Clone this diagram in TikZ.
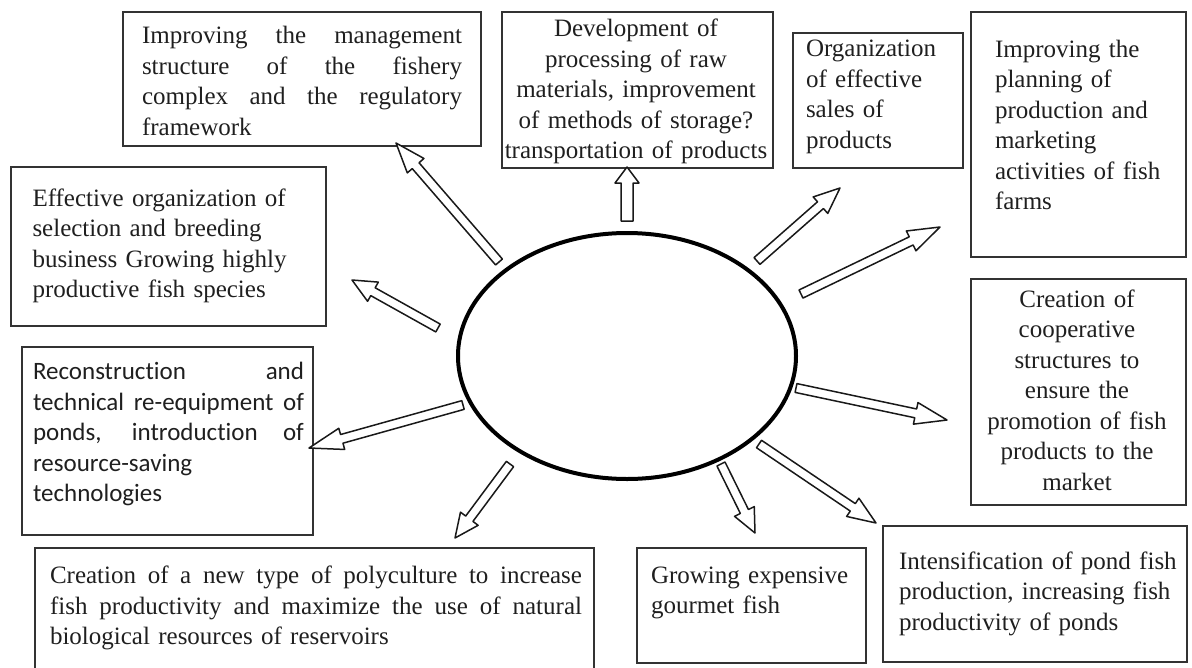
\documentclass[tikz,border=0pt]{standalone}
\usepackage{fontspec}
\setmainfont{Liberation Serif}
\newfontfamily\calfont[Ligatures=CommonOff]{Carlito}
\usetikzlibrary{calc,shapes.geometric}
\newcommand\jl[1]{\leavevmode\hbox to \hsize{\spaceskip=\fontdimen2\font plus 1fil\relax #1}}
% tail, tip, head length, shaft half width, head half width
\newcommand\blockarrowx[5]{%
  \coordinate (hb) at ($(#2)!#3!(#1)$);
  \draw[arrowline] ($(#1)!#4!90:(#2)$) -- ($(hb)!#4!-90:(#1)$) -- ($(hb)!#5!-90:(#1)$)
    -- (#2) -- ($(hb)!#5!90:(#1)$) -- ($(hb)!#4!90:(#1)$) -- ($(#1)!#4!-90:(#2)$) -- cycle;
}
\newcommand\blockarrow[3][28pt]{\blockarrowx{#2}{#3}{#1}{4.5pt}{11pt}}
\begin{document}
\begin{tikzpicture}[x=1pt,y=-1pt,
  box/.style={draw=black!80, line width=1.3pt, inner sep=0pt},
  txt/.style={inner sep=0pt, text=black!88, font=\fontsize{25}{30.5}\selectfont},
  arrowline/.style={draw=black!90, line width=1.5pt, fill=white, line join=round},
  hub/.style={ellipse, draw=black, line width=4pt, inner sep=0pt}]
\useasboundingbox (0,0) rectangle (1192,667);

% central ellipse
\node[hub, minimum width=338pt, minimum height=246pt] (c) at (627,356) {};

% boxes
\node[box, minimum width=358pt, minimum height=134pt] (b1) at (302,79) {};
\node[box, minimum width=271pt, minimum height=156pt] (b2) at (637.5,90) {};
\node[box, minimum width=170pt, minimum height=135pt] (b3) at (878,100.5) {};
\node[box, minimum width=215pt, minimum height=245pt] (b4) at (1078.5,134.5) {};
\node[box, minimum width=315pt, minimum height=159pt] (b5) at (168.5,246.5) {};
\node[box, minimum width=215pt, minimum height=226pt] (b6) at (1078.5,392) {};
\node[box, minimum width=291pt, minimum height=188pt] (b7) at (167.5,441) {};
\node[box, minimum width=559pt, minimum height=121pt] (b8) at (314.5,608.5) {};
\node[box, minimum width=229pt, minimum height=115pt] (b9) at (751.5,605.5) {};
\node[box, minimum width=304pt, minimum height=136pt] (b10) at (1035,594) {};

% texts
\node[txt, text width=320pt, align=left] (x1) at (302,81)
  {\jl{Improving the management}\\\jl{structure of the fishery}\\\jl{complex and the regulatory}\\framework};
\node[txt, text width=265pt, align=center] (x2) at (636,91.5)
  {Development of\\processing of raw\\materials, improvement\\of methods of storage?\\transportation of products};
\node[txt, text width=144pt, align=left] (x3) at (878,97)
  {Organization\\of effective\\sales of\\products};
\node[txt, text width=167pt, align=left] (x4) at (1078.5,125)
  {Improving the\\planning of\\production and\\marketing\\activities of fish\\farms};
\node[txt, text width=272pt, align=left] (x5) at (168.5,246)
  {Effective organization of\\selection and breeding\\business Growing highly\\productive fish species};
\node[txt, text width=200pt, align=center] (x6) at (1077,390)
  {Creation of\\cooperative\\structures to\\ensure the\\promotion of fish\\products to the\\market};
\node[txt, text width=271pt, align=left, font=\calfont\fontsize{25}{30.5}\selectfont] (x7) at (168.5,434)
  {\jl{Reconstruction and}\\\jl{technical re-equipment of}\\\jl{ponds, introduction of}\\resource-saving\\technologies};
\node[txt, text width=532pt, align=left] (x8) at (316,608)
  {\jl{Creation of a new type of polyculture to increase}\\\jl{fish productivity and maximize the use of natural}\\biological resources of reservoirs};
\node[txt, text width=201pt, align=left] (x9) at (751.5,593)
  {Growing expensive\\gourmet fish};
\node[txt, text width=282pt, align=left] (x10) at (1040,593.5)
  {Intensification of pond fish\\production, increasing fish\\productivity of ponds};

% arrow end points
\coordinate (t1) at (499,262);  \coordinate (h1) at (396,143);
\coordinate (t2) at (627,221);  \coordinate (h2) at (627,167);
\coordinate (t3) at (757,261);  \coordinate (h3) at (840,188);
\coordinate (t4) at (801,294);  \coordinate (h4) at (940,227);
\coordinate (t5) at (438,328);  \coordinate (h5) at (352,280);
\coordinate (t6) at (796,388);  \coordinate (h6) at (947,420);
\coordinate (t7) at (463,405);  \coordinate (h7) at (309,448);
\coordinate (t8) at (510,464);  \coordinate (h8) at (455,538);
\coordinate (t9) at (721,464);  \coordinate (h9) at (755,533);
\coordinate (t10) at (759,444); \coordinate (h10) at (876,523);

\blockarrow[30pt]{t1}{h1}
\blockarrowx{t2}{h2}{16pt}{6pt}{12pt}
\blockarrow[26pt]{t3}{h3}
\blockarrow[32pt]{t4}{h4}
\blockarrow[24pt]{t5}{h5}
\blockarrow[32pt]{t6}{h6}
\blockarrow[34pt]{t7}{h7}
\blockarrow[24pt]{t8}{h8}
\blockarrow[24pt]{t9}{h9}
\blockarrow[28pt]{t10}{h10}
\end{tikzpicture}
\end{document}
